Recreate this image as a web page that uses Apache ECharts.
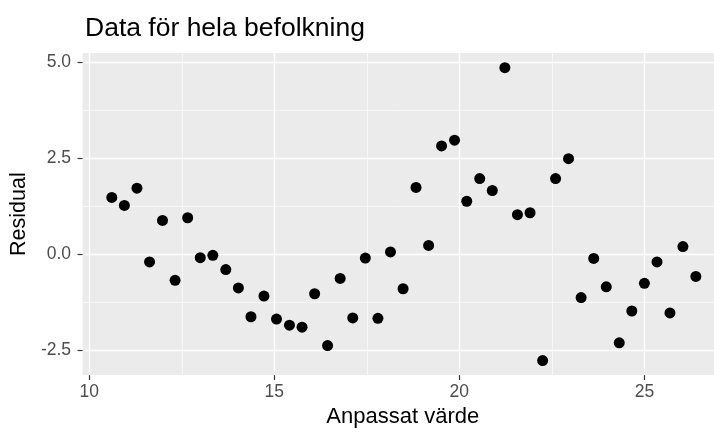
<!DOCTYPE html>
<html>
<head>
<meta charset="utf-8">
<script src="https://cdn.jsdelivr.net/npm/echarts@6/dist/echarts.min.js"></script>
<style>
  html, body { margin: 0; padding: 0; background: #fff; }
  #chart { width: 714px; height: 433px; }
</style>
</head>
<body>
<div id="chart"></div>
<script>
// fitted values (x) and residuals (y)
var fitted = [10.61, 10.95, 11.29, 11.63, 11.98, 12.32, 12.66, 13.00, 13.34, 13.69,
    14.03, 14.37, 14.72, 15.06, 15.41, 15.75, 16.09, 16.44, 16.78, 17.12,
    17.46, 17.80, 18.14, 18.48, 18.83, 19.17, 19.52, 19.87, 20.20, 20.55,
    20.89, 21.23, 21.57, 21.91, 22.25, 22.60, 22.95, 23.29, 23.63, 23.97,
    24.32, 24.66, 25.00, 25.34, 25.69, 26.04, 26.39];
var residual = [1.47, 1.26, 1.71, -0.21, 0.87, -0.69, 0.94, -0.10, -0.04, -0.41,
    -0.89, -1.64, -1.10, -1.70, -1.86, -1.91, -1.04, -2.39, -0.64, -1.67,
    -0.11, -1.68, 0.05, -0.91, 1.73, 0.22, 2.81, 2.96, 1.37, 1.96,
    1.65, 4.85, 1.02, 1.07, -2.78, 1.96, 2.48, -1.14, -0.12, -0.86,
    -2.32, -1.49, -0.77, -0.21, -1.54, 0.19, -0.59];

var xTicks = [10, 15, 20, 25];
var yTicks = [-2.5, 0, 2.5, 5];
var xMinor = [12.5, 17.5, 22.5];
var yMinor = [-1.25, 1.25, 3.75];

var font = "'Liberation Sans', Arial, Helvetica, sans-serif";

var points = fitted.map(function (x, i) { return [x, residual[i]]; });
var minorLines = xMinor.map(function (v) { return {xAxis: v}; })
    .concat(yMinor.map(function (v) { return {yAxis: v}; }));

var chart = echarts.init(document.getElementById("chart"));
chart.setOption({
    animation: false,
    title: {
        text: "Data för hela befolkning",
        left: 80,
        top: 10,
        textStyle: {fontFamily: font, fontSize: 26.5, fontWeight: "normal", color: "#000"}
    },
    grid: {
        left: 80.6,
        right: 0,
        top: 53.1,
        bottom: 54.4,
        show: true,
        backgroundColor: "#ebebeb",
        borderWidth: 0
    },
    xAxis: {
        type: "value",
        min: 9.82,
        max: 26.88,
        name: "Anpassat värde",
        nameLocation: "middle",
        nameGap: 25,
        nameTextStyle: {fontFamily: font, fontSize: 22, color: "#000", padding: [0, 0, 0, 9]},
        axisLine: {show: false, onZero: false},
        axisTick: {show: true, length: 5, customValues: xTicks, lineStyle: {color: "#333333", width: 1.2}},
        axisLabel: {customValues: xTicks, margin: 8, fontFamily: font, fontSize: 17.5, color: "#4d4d4d"},
        splitLine: {show: true, lineStyle: {color: "#ffffff", width: 1.3}}
    },
    yAxis: {
        type: "value",
        min: -3.16,
        max: 5.23,
        name: "Residual",
        nameLocation: "middle",
        nameGap: 49,
        nameRotate: 90,
        nameTextStyle: {fontFamily: font, fontSize: 21.5, color: "#000"},
        axisLine: {show: false, onZero: false},
        axisTick: {show: true, length: 5, customValues: yTicks, lineStyle: {color: "#333333", width: 1.2}},
        axisLabel: {
            customValues: yTicks, margin: 11.5, fontFamily: font, fontSize: 17.5, color: "#4d4d4d",
            formatter: function (v) { return v.toFixed(1); }
        },
        splitLine: {show: true, lineStyle: {color: "#ffffff", width: 1.3}}
    },
    series: [{
        type: "scatter",
        data: points,
        symbol: "circle",
        symbolSize: 11,
        itemStyle: {color: "#000000", opacity: 1},
        z: 3,
        markLine: {
            silent: true,
            z: 1,
            symbol: "none",
            label: {show: false},
            lineStyle: {color: "#ffffff", width: 0.6, type: "solid"},
            data: minorLines
        }
    }]
});
</script>
</body>
</html>
